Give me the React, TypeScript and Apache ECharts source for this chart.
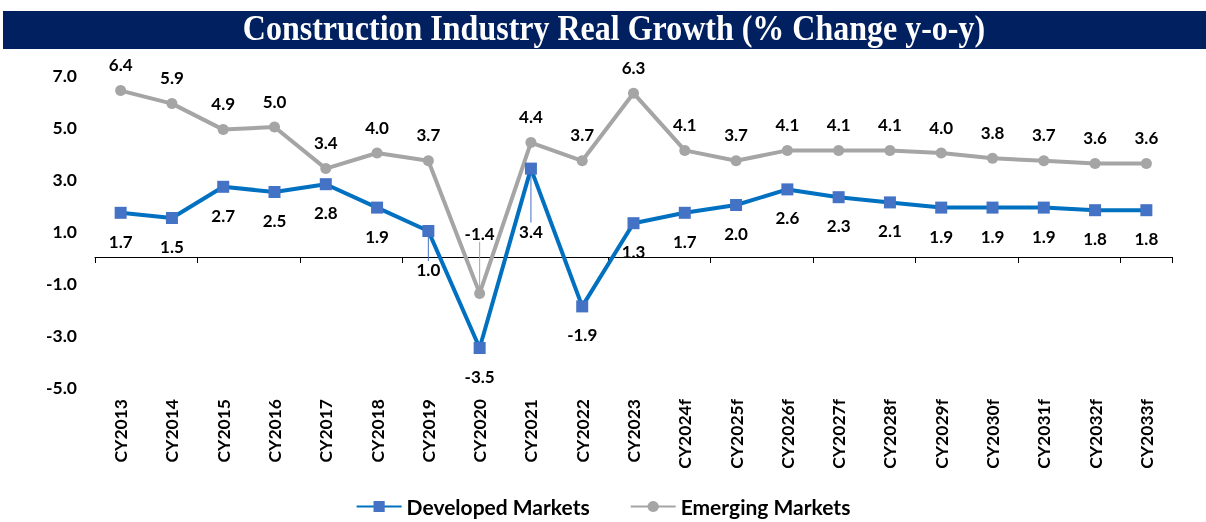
import React, { useEffect, useRef } from "react";
import * as echarts from "echarts";

const categories = ["CY2013","CY2014","CY2015","CY2016","CY2017","CY2018","CY2019","CY2020","CY2021","CY2022","CY2023","CY2024f","CY2025f","CY2026f","CY2027f","CY2028f","CY2029f","CY2030f","CY2031f","CY2032f","CY2033f"];
const developed = [1.7,1.5,2.7,2.5,2.8,1.9,1.0,-3.5,3.4,-1.9,1.3,1.7,2.0,2.6,2.3,2.1,1.9,1.9,1.9,1.8,1.8];
const emerging = [6.4,5.9,4.9,5.0,3.4,4.0,3.7,-1.4,4.4,3.7,6.3,4.1,3.7,4.1,4.1,4.1,4.0,3.8,3.7,3.6,3.6];
const title = "Construction Industry Real Growth (% Change y-o-y)";
const yMin = -5;
const yMax = 7;
const yStep = 2;

const FONT = "Lato, 'Open Sans', sans-serif";

export default function App() {
  const ref = useRef<HTMLDivElement>(null);
  useEffect(() => {
    if (!ref.current) return;
    const chart = echarts.init(ref.current, null, { renderer: "svg" });
    const devMoved: Record<number, number> = { 6: 10, 8: 34 };
    const emMoved: Record<number, number> = { 7: -34 };
    const devData = developed.map((v, i) =>
      devMoved[i] !== undefined
        ? { value: v, labelLine: { show: true, lineStyle: { color: "#4472C4", width: 1 } } }
        : v
    );
    const emData = emerging.map((v, i) =>
      emMoved[i] !== undefined
        ? { value: v, labelLine: { show: true, lineStyle: { color: "#A5A5A5", width: 1 } } }
        : v
    );
    chart.setOption({
      animation: false,
      graphic: [
        { type: "rect", shape: { x: 3, y: 11, width: 1203, height: 38 }, style: { fill: "#002060" }, z: 0 },
        {
          type: "text", x: 614, y: 31, scaleY: 1.1, originX: 614, originY: 31,
          style: { text: title, fill: "#ffffff", font: "bold 32px 'Liberation Serif', 'Times New Roman', serif", textAlign: "center", textVerticalAlign: "middle" },
          z: 1,
        },
      ],
      grid: { left: 95, right: 34, top: 75, bottom: 135, containLabel: false },
      legend: {
        bottom: 0, left: "center", itemGap: 40, itemWidth: 45, itemHeight: 14,
        textStyle: { fontFamily: FONT, fontWeight: "bold", fontSize: 21, color: "#000" },
        data: ["Developed Markets", "Emerging Markets"],
      },
      xAxis: [
        {
          type: "category", data: categories, boundaryGap: true,
          axisLine: { onZero: true, lineStyle: { color: "#000", width: 1 } },
          axisTick: { show: true, alignWithLabel: false, length: 6, lineStyle: { color: "#000" } },
          axisLabel: { show: false },
          splitLine: { show: false },
        },
        {
          type: "category", data: categories, position: "bottom", boundaryGap: true,
          axisLine: { show: false, onZero: false },
          axisTick: { show: false },
          axisLabel: { rotate: 90, margin: 12, fontFamily: FONT, fontWeight: "bold", fontSize: 17.5, color: "#000", interval: 0 },
        },
      ],
      yAxis: {
        type: "value", min: yMin, max: yMax, interval: yStep,
        axisLine: { show: false }, axisTick: { show: false }, splitLine: { show: false },
        axisLabel: { formatter: (v: number) => v.toFixed(1), fontFamily: FONT, fontWeight: "bold", fontSize: 17.5, color: "#000", margin: 18 },
      },
      series: [
        {
          name: "Emerging Markets", type: "line", data: emData, xAxisIndex: 0,
          lineStyle: { color: "#A5A5A5", width: 4 },
          itemStyle: { color: "#A5A5A5" },
          symbol: "circle", symbolSize: 11,
          label: { show: true, position: "top", distance: 12, formatter: (p: any) => Number(p.value).toFixed(1), fontFamily: FONT, fontWeight: "bold", fontSize: 17, color: "#000" },
          labelLayout: (p: any) => (emMoved[p.dataIndex] !== undefined ? { dy: emMoved[p.dataIndex] } : {}),
          z: 2,
        },
        {
          name: "Developed Markets", type: "line", data: devData, xAxisIndex: 0,
          lineStyle: { color: "#0070C0", width: 4 },
          itemStyle: { color: "#4472C4" },
          symbol: "rect", symbolSize: 12,
          label: { show: true, position: "bottom", distance: 14, formatter: (p: any) => Number(p.value).toFixed(1), fontFamily: FONT, fontWeight: "bold", fontSize: 17, color: "#000" },
          labelLayout: (p: any) => (devMoved[p.dataIndex] !== undefined ? { dy: devMoved[p.dataIndex] } : {}),
          z: 3,
        },
      ],
    });
    return () => chart.dispose();
  }, []);
  return <div ref={ref} style={{ position: "fixed", left: 0, top: 0, width: 1206, height: 522 }} />;
}
